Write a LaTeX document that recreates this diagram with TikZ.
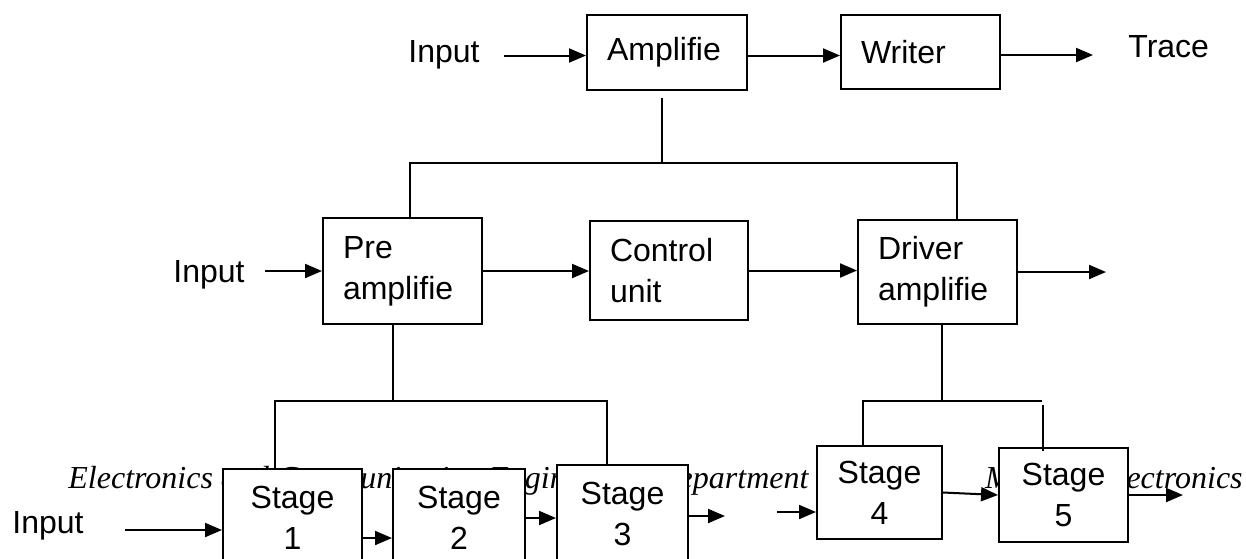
\documentclass[tikz,border=0pt]{standalone}
\usepackage{fontspec}
\setmainfont{Liberation Sans}
\newfontfamily\footserif{Liberation Serif}
\usetikzlibrary{arrows.meta}
\newcommand{\blkfont}{\fontsize{16pt}{20.5pt}\selectfont}
\tikzset{
  blk/.style={draw, fill=white, line width=1pt, align=left,
    inner xsep=10pt, inner ysep=2pt, font=\blkfont},
  stg/.style={draw, fill=white, line width=1pt, align=center,
    inner sep=2pt, font=\blkfont},
  lab/.style={inner sep=0pt, font=\blkfont},
  foot/.style={inner sep=0pt, font=\footserif\itshape\fontsize{16pt}{19pt}\selectfont},
  flow/.style={-{Triangle[length=8.5pt,width=7pt]}, line width=1pt},
  lnk/.style={line width=1pt},
}

\begin{document}
\begin{tikzpicture}[x=0.5pt, y=-0.5pt]
    \useasboundingbox (0,0) rectangle (1246,558);
    \clip (0,0) rectangle (1246,558);
    % page footer, partly hidden by the stages
    \node[foot, anchor=base west] (ft1) at (68,488)
      {Electronics and Communication Engineering Department};
    \node[foot, anchor=base east] (ft2) at (1243,488) {Medical Electronics};
    % recorder row
    \node[lab, anchor=base west] (in1) at (408,62) {Input};
    \node[blk, text width=60pt, minimum height=37.5pt] (amp) at (667,52.5) {Amplifie};
    \node[blk, text width=59.5pt, minimum height=37pt] (wri) at (920.5,52) {Writer};
    \node[lab, anchor=base west] (trc) at (1128,57) {Trace};
    % amplifier row
    \node[lab, anchor=base west] (in2) at (173,282) {Input};
    \node[blk, text width=59.5pt, minimum height=53pt] (pre) at (402.5,271) {Pre\\amplifie};
    \node[blk, text width=59pt, minimum height=49.5pt] (ctl) at (669,270.5) {Control\\unit};
    \node[blk, text width=59.5pt, minimum height=52pt] (drv) at (937.5,272) {Driver\\amplifie};
    \coordinate (drvo) at (1106,272);
    % stages
    \node[lab, anchor=base west] (in3) at (12,533) {Input};
    \node[stg, minimum width=69.5pt, minimum height=49pt] (s1) at (292.5,518) {Stage\\1};
    \node[stg, minimum width=66pt, minimum height=49pt] (s2) at (459,518) {Stage\\2};
    \node[stg, minimum width=65.5pt, minimum height=49pt] (s3) at (622.5,514) {Stage\\3};
    \node[stg, minimum width=62.5pt, minimum height=46.5pt] (s4) at (879.5,492.5) {Stage\\4};
    \node[stg, minimum width=64.5pt, minimum height=47pt] (s5) at (1063.5,495) {Stage\\5};
    \coordinate (s3o) at (725,516);
    \coordinate (s4i) at (777,512);
    \coordinate (s5o) at (1183,495);
    % junctions
    \coordinate (tj) at (662,163);
    \coordinate (bj1) at (393,401);
    \coordinate (bj2) at (942,401);
    \coordinate (bj2e) at (1042,401);
    \coordinate (bj3) at (1043,405);
    % signal flow
    \draw[flow] ([xshift=12pt,yshift=-1.5pt]in1.east |- amp.west) -- ([yshift=-1.5pt]amp.west);
    \draw[flow] ([yshift=-1.5pt]amp.east) -- ([yshift=-1.5pt]amp.east -| wri.west);
    \draw[flow] ([yshift=-1.5pt]wri.east) -- ([xshift=-17.5pt,yshift=-1.5pt]trc.west |- wri.east);
    \draw[flow] ([xshift=10pt]in2.east |- pre.west) -- (pre.west);
    \draw[flow] (pre.east) -- (pre.east -| ctl.west);
    \draw[flow] (ctl.east) -- (ctl.east -| drv.west);
    \draw[flow] (drv.east) -- (drvo);
    \draw[flow] ([xshift=20.5pt,yshift=-6pt]in3.east |- s1.west) -- ([yshift=-6pt]s1.west);
    \draw[flow] ([yshift=-10pt]s1.east) -- ([yshift=-10pt]s2.west);
    \draw[flow] (s2.east) -- (s2.east -| s3.west);
    \draw[flow] (s3.east |- s3o) -- (s3o);
    \draw[flow] (s4i) -- (s4i -| s4.west);
    \draw[flow] (s4.east) -- (s5.west);
    \draw[flow] (s5.east) -- (s5o);
    % tree links
    \draw[lnk] ([yshift=-3.5pt]amp.south -| tj) -- (tj);
    \draw[lnk] ([xshift=3.75pt]pre.north) |- (tj) -| ([xshift=9.75pt]drv.north);
    \draw[lnk] ([xshift=-4.75pt]pre.south) -- (bj1);
    \draw[lnk] ([xshift=-8.75pt]s1.north) |- (bj1) -| ([xshift=-7.75pt]s3.north);
    \draw[lnk] ([xshift=2.25pt]drv.south) -- (bj2);
    \draw[lnk] ([xshift=-8.25pt]s4.north) |- (bj2) -- (bj2e);
    \draw[lnk] (bj3) -- ([xshift=-10.25pt,yshift=-2pt]s5.north);
\end{tikzpicture}
\end{document}
